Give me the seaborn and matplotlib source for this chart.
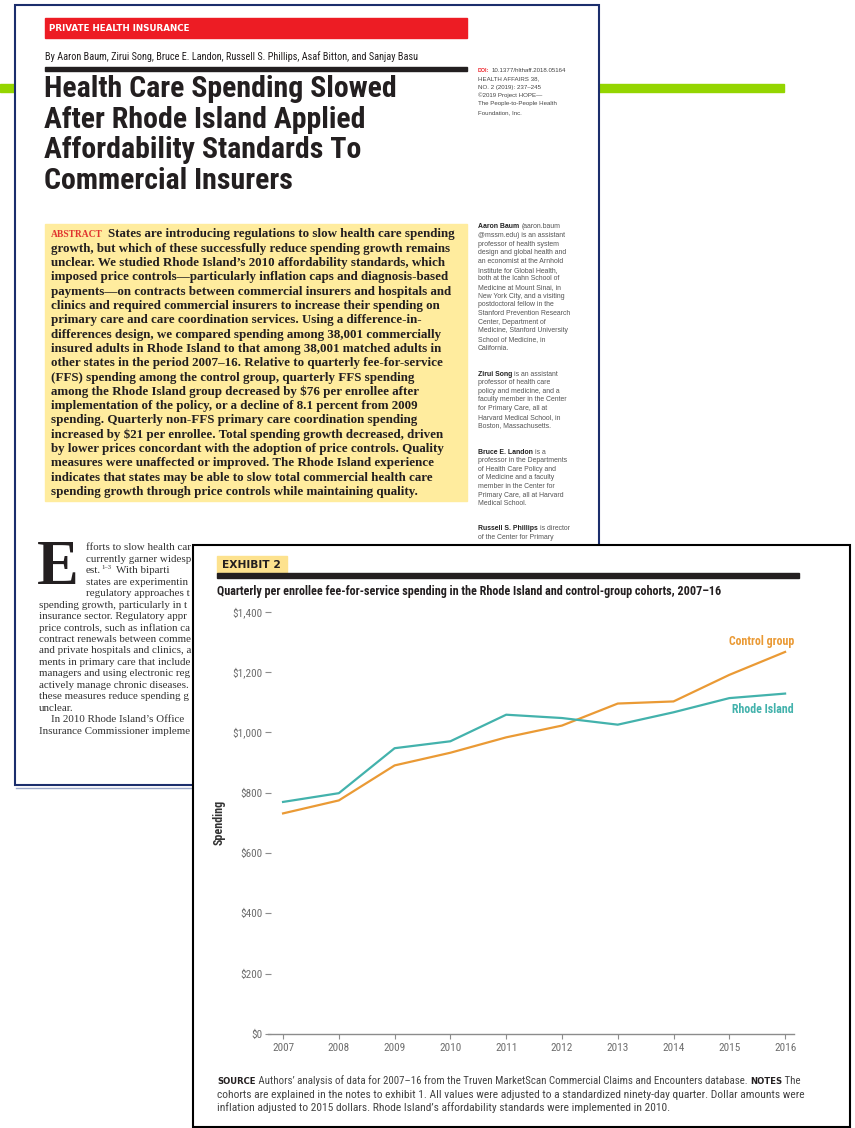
import matplotlib
matplotlib.use('Agg')
import matplotlib.pyplot as plt
from matplotlib import font_manager
from matplotlib.patches import Rectangle
import seaborn as sns
import pandas as pd

# exhibit 2 data
years = [2007, 2008, 2009, 2010, 2011, 2012, 2013, 2014, 2015, 2016]
control_group = [731, 774, 890, 932, 983, 1022, 1095, 1102, 1190, 1266]
rhode_island = [769, 798, 947, 970, 1058, 1047, 1025, 1066, 1113, 1128]
spending_ticks = [0, 200, 400, 600, 800, 1000, 1200, 1400]
spending_labels = ['$0', '$200', '$400', '$600', '$800', '$1,000', '$1,200', '$1,400']
year_labels = [str(y) for y in years]

title_lines = ['Health Care Spending Slowed', 'After Rhode Island Applied',
               'Affordability Standards To', 'Commercial Insurers']
authors = 'By Aaron Baum, Zirui Song, Bruce E. Landon, Russell S. Phillips, Asaf Bitton, and Sanjay Basu'
doi_lines = ['10.1377/hlthaff.2018.05164', 'HEALTH AFFAIRS 38,', 'NO. 2 (2019): 237\u2013245',
             '\u00a92019 Project HOPE\u2014', 'The People-to-People Health', 'Foundation, Inc.']
abstract_lines = [
    'States are introducing regulations to slow health care spending',
    'growth, but which of these successfully reduce spending growth remains',
    'unclear. We studied Rhode Island\u2019s 2010 affordability standards, which',
    'imposed price controls\u2014particularly inflation caps and diagnosis-based',
    'payments\u2014on contracts between commercial insurers and hospitals and',
    'clinics and required commercial insurers to increase their spending on',
    'primary care and care coordination services. Using a difference-in-',
    'differences design, we compared spending among 38,001 commercially',
    'insured adults in Rhode Island to that among 38,001 matched adults in',
    'other states in the period 2007\u201316. Relative to quarterly fee-for-service',
    '(FFS) spending among the control group, quarterly FFS spending',
    'among the Rhode Island group decreased by $76 per enrollee after',
    'implementation of the policy, or a decline of 8.1 percent from 2009',
    'spending. Quarterly non-FFS primary care coordination spending',
    'increased by $21 per enrollee. Total spending growth decreased, driven',
    'by lower prices concordant with the adoption of price controls. Quality',
    'measures were unaffected or improved. The Rhode Island experience',
    'indicates that states may be able to slow total commercial health care',
    'spending growth through price controls while maintaining quality.',
]
bios = [
    ('Aaron Baum', ['(aaron.baum', '@mssm.edu) is an assistant', 'professor of health system',
                    'design and global health and', 'an economist at the Arnhold',
                    'Institute for Global Health,', 'both at the Icahn School of',
                    'Medicine at Mount Sinai, in', 'New York City, and a visiting',
                    'postdoctoral fellow in the', 'Stanford Prevention Research',
                    'Center, Department of', 'Medicine, Stanford University',
                    'School of Medicine, in', 'California.']),
    ('Zirui Song', ['is an assistant', 'professor of health care', 'policy and medicine, and a',
                    'faculty member in the Center', 'for Primary Care, all at',
                    'Harvard Medical School, in', 'Boston, Massachusetts.']),
    ('Bruce E. Landon', ['is a', 'professor in the Departments', 'of Health Care Policy and',
                         'of Medicine and a faculty', 'member in the Center for',
                         'Primary Care, all at Harvard', 'Medical School.']),
    ('Russell S. Phillips', ['is director', 'of the Center for Primary']),
]
body_lines = [
    'fforts to slow health care spending', 'currently garner widespread inter-',
    'est.', 'states are experimenting with', 'regulatory approaches to slow',
    'spending growth, particularly in the', 'insurance sector. Regulatory approaches',
    'price controls, such as inflation caps', 'contract renewals between commercial',
    'and private hospitals and clinics, and', 'ments in primary care that include',
    'managers and using electronic registries', 'actively manage chronic diseases.',
    'these measures reduce spending growth', 'unclear.',
    'In 2010 Rhode Island\u2019s Office of the', 'Insurance Commissioner implemented',
]
chart_title = ('Quarterly per enrollee fee-for-service spending in the Rhode Island '
               'and control-group cohorts, 2007\u201316')
source_text = ' Authors\u2019 analysis of data for 2007\u201316 from the Truven MarketScan Commercial Claims and Encounters database.'
notes_lines = [' The',
               'cohorts are explained in the notes to exhibit 1. All values were adjusted to a standardized ninety-day quarter. Dollar amounts were',
               'inflation adjusted to 2015 dollars. Rhode Island\u2019s affordability standards were implemented in 2010.']

ORANGE = '#EA9A35'
TEAL = '#43B2AC'
INK = '#231F20'
RED = '#ED1C24'
NAVY = '#1B2E6C'

plt.rcParams['text.parse_math'] = False
names = {f.name for f in font_manager.fontManager.ttflist}


def pick(*cands):
    for c in cands:
        if c in names:
            return c
    return 'DejaVu Sans'


NARROW = pick('Liberation Sans Narrow', 'Roboto Condensed', 'Open Sans Condensed', 'Roboto')
SERIF = pick('Liberation Serif', 'DejaVu Serif')
SANS = pick('Liberation Sans', 'Noto Sans', 'DejaVu Sans')

W, H = 855, 1128
fig = plt.figure(figsize=(W / 100, H / 100), dpi=100)
fig.patch.set_facecolor('white')
renderer = fig.canvas.get_renderer()

# background axes in pixel units (y downwards)
bg = fig.add_axes([0, 0, 1, 1])
bg.set_xlim(0, W)
bg.set_ylim(H, 0)
bg.axis('off')


def width_of(s, **kw):
    t = bg.text(0, 0, s, **kw)
    w = t.get_window_extent(renderer).width
    t.remove()
    return w


def fit_size(s, width, **kw):
    return 10 * width / width_of(s, fontsize=10, **kw)


def runs(x, y, parts, size, **base):
    # one line made of differently styled pieces; returns the texts and end x
    texts = []
    for s, kw in parts:
        opts = dict(base)
        opts.update(kw)
        scale = opts.pop('scale', 1)
        dy = opts.pop('dy', 0)
        x += opts.pop('gap', 0)
        t = bg.text(x, y + dy, s, fontsize=size * scale, **opts)
        x += t.get_window_extent(renderer).width
        texts.append(t)
    return texts, x


def fit_runs(x, y, parts, width, **base):
    texts, end = runs(x, y, parts, 10, **base)
    for t in texts:
        t.remove()
    size = 10 * width / (end - x)
    runs(x, y, parts, size, **base)
    return size


def clipped(x, s, right, **kw):
    # article text that runs under the exhibit panel stops at its edge
    while s and x + width_of(s, **kw) > right:
        s = s[:-1]
    return s


# green slide rule, partly behind the page
bg.add_patch(Rectangle((0, 84), 784, 8, color='#94D500', zorder=1))

# article page
bg.plot([16, 600], [787.5, 787.5], color='#9AA8C8', lw=1, zorder=1.8)
bg.add_patch(Rectangle((15, 5), 584, 780, facecolor='white', edgecolor=NAVY, lw=1.5, zorder=2))

bg.add_patch(Rectangle((45, 18), 422, 20, color=RED, zorder=2.5))
s = fit_size('PRIVATE HEALTH INSURANCE', 141, family='DejaVu Sans', weight='bold')
bg.text(49, 28.5, 'PRIVATE HEALTH INSURANCE', fontsize=s, family='DejaVu Sans', weight='bold',
        color='white', va='center', zorder=3)

s = fit_size(authors, 373, family=NARROW)
bg.text(45, 57, authors, fontsize=s, family=NARROW, color=INK, va='center', zorder=3)
bg.add_patch(Rectangle((45, 66.5), 422, 4.5, color=INK, zorder=2.5))

s = fit_size(title_lines[0], 353, family=NARROW, weight='bold')
for i, line in enumerate(title_lines):
    bg.text(44, 97 + 30.7 * i, line, fontsize=s, family=NARROW, weight='bold', color=INK,
            va='baseline', zorder=3)

s = fit_size(doi_lines[4], 79, family=SANS)
for i, line in enumerate(doi_lines):
    parts = [(line, {})]
    if i == 0:
        parts = [('DOI:', {'color': RED, 'weight': 'bold', 'scale': 0.85}), (line, {'gap': 2})]
    runs(478, 70 + 8.5 * i, parts, s, family=SANS, color='#444444', va='center', zorder=3)

# abstract
bg.add_patch(Rectangle((45, 224), 422, 277, color='#FFEC9E', zorder=2.5))
s = fit_size(abstract_lines[1], 400, family=SERIF, weight='bold')
sa = fit_size('ABSTRACT', 52, family=SERIF, weight='bold')
bg.text(51, 234.5, 'ABSTRACT', fontsize=sa, family=SERIF, weight='bold', color='#E0322E',
        va='center', zorder=3)
for i, line in enumerate(abstract_lines):
    x = 108 if i == 0 else 51
    bg.text(x, 234.5 + 14.3 * i, line, fontsize=s, family=SERIF, weight='bold', color=INK,
            va='center', zorder=3)

# author notes column
s = fit_size('design and global health and', 89, family=SANS)
y0 = [227, 374, 452, 529]
for (name, lines), y in zip(bios, y0):
    runs(478, y, [(name, {'weight': 'bold', 'color': '#222222'}), (lines[0], {'gap': 2})],
         s, family=SANS, color='#555555', va='center', zorder=3)
    for j, line in enumerate(lines[1:]):
        bg.text(478, y + 8.65 * (j + 1), line, fontsize=s, family=SANS, color='#555555',
                va='center', zorder=3)

# body text with drop cap
bg.text(37, 584, 'E', fontsize=45, family=SERIF, weight='bold', color=INK, va='baseline', zorder=3)
s = fit_size('spending growth, particularly in th', 153, family=SERIF)
for i, line in enumerate(body_lines):
    y = 548 + 11.44 * i
    x = 86 if i < 5 else (51 if i == 15 else 39)
    if i == 2:
        runs(x, y, [('est.', {}), ('1\u20133', {'scale': 0.6, 'dy': -3}),
                    ('With biparti', {'gap': 5})],
             s, family=SERIF, color='#333333', va='center', zorder=3)
    else:
        line = clipped(x, line, 192, fontsize=s, family=SERIF)
        bg.text(x, y, line, fontsize=s, family=SERIF, color='#333333', va='center', zorder=3)

# exhibit panel on top
bg.add_patch(Rectangle((193, 544.5), 656.5, 582, facecolor='white', edgecolor='black', lw=1.5, zorder=5))
bg.add_patch(Rectangle((217, 556), 70, 17, color='#FDE28E', zorder=6))
s = fit_size('EXHIBIT 2', 59, family='DejaVu Sans', weight='bold')
bg.text(222, 565, 'EXHIBIT 2', fontsize=s, family='DejaVu Sans', weight='bold', color=INK,
        va='center', zorder=7)
bg.add_patch(Rectangle((217, 573), 582, 5, color=INK, zorder=6))
s = fit_size(chart_title, 507, family=NARROW, weight='bold')
bg.text(217, 591, chart_title, fontsize=s, family=NARROW, weight='bold', color=INK,
        va='center', zorder=7)

s = fit_size(notes_lines[1], 580, family=NARROW)
sc = {'weight': 'bold', 'scale': 0.78, 'color': INK, 'family': 'DejaVu Sans'}
fit_runs(217, 1081, [('SOURCE', sc), (source_text, {}), ('NOTES', dict(sc, gap=3)), (notes_lines[0], {})],
         580, family=NARROW, color='#444444', va='center', zorder=7)
for i, line in enumerate(notes_lines[1:]):
    bg.text(217, 1094.5 + 13.5 * i, line, fontsize=s, family=NARROW, color='#444444',
            va='center', zorder=7)

# the chart itself
L, T, R, B = 268, 611.5, 794, 1034
ax = fig.add_axes([L / W, 1 - B / H, (R - L) / W, (B - T) / H])
ax.set_facecolor('none')
df = pd.DataFrame({
    'year': years + years,
    'spending': control_group + rhode_island,
    'cohort': ['Control group'] * len(years) + ['Rhode Island'] * len(years),
})
sns.lineplot(data=df, x='year', y='spending', hue='cohort',
             palette={'Control group': ORANGE, 'Rhode Island': TEAL},
             linewidth=1.6, legend=False, ax=ax, clip_on=False)
ax.set_xlim(2006.73, 2016.16)
ax.set_ylim(0, 1400)
for side in ['top', 'right', 'left']:
    ax.spines[side].set_visible(False)
ax.spines['bottom'].set_color('#8C8C8C')
ax.spines['bottom'].set_linewidth(1)

tick_size = fit_size('2007', 22, family=NARROW)
ax.set_xticks(years)
ax.set_xticklabels(year_labels, family=NARROW, fontsize=tick_size, color='#6E6E6E')
ax.set_yticks(spending_ticks)
ax.set_yticklabels(spending_labels, family=NARROW, fontsize=tick_size, color='#6E6E6E')
ax.tick_params(axis='x', direction='out', length=3.6, width=0.8, color='#8C8C8C', pad=3)
ax.tick_params(axis='y', direction='inout', length=5, width=0.8, color='#8C8C8C', pad=1.5)
ax.set_xlabel('')
s = fit_size('Spending', 45, family=NARROW, weight='bold')
ax.set_ylabel('Spending', family=NARROW, weight='bold', fontsize=s, color='#333333')
ax.yaxis.set_label_coords(-0.08, 0.5)

s = fit_size('Control group', 65, family=NARROW, weight='bold')
ax.text(2016.16, 1302, 'Control group', ha='right', va='center', color=ORANGE,
        family=NARROW, weight='bold', fontsize=s)
ax.text(2016.16, 1074, 'Rhode Island', ha='right', va='center', color=TEAL,
        family=NARROW, weight='bold', fontsize=s)

fig.savefig('out.png', dpi=100)
